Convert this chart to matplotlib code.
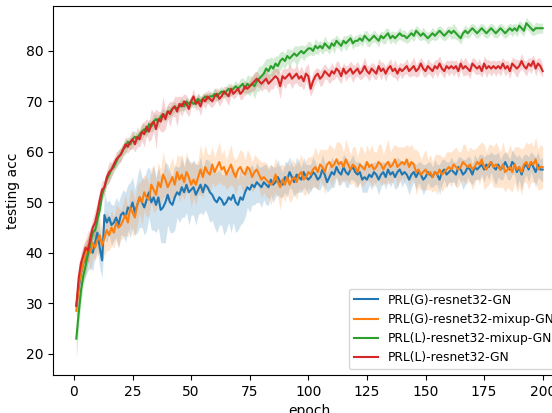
import numpy as np
import matplotlib
matplotlib.use("Agg")
import matplotlib.pyplot as plt

# testing accuracy per epoch (mean over runs) and half-width of the shaded band
epochs = list(range(1, 201))

labels = [
    "PRL(G)-resnet32-GN",
    "PRL(G)-resnet32-mixup-GN",
    "PRL(L)-resnet32-mixup-GN",
    "PRL(L)-resnet32-GN",
]

g_gn_mean = [
    29.5, 33, 36, 38, 38.5, 40, 41, 40, 42, 44, 41, 38.5, 47.5, 46, 47, 45.5, 46, 47, 45.5, 47.5,
    48, 47, 49, 48.5, 50, 48, 49.5, 51, 50, 49, 50.5, 52, 50, 51, 49.5, 51, 48.5, 49, 50, 51.5,
    50, 49.5, 51, 52, 51.5, 53, 52, 53.5, 52, 52.5, 53, 51.5, 52.5, 53.5, 52, 53.5, 53, 52, 51.5, 50.5,
    50, 51, 50.5, 49.5, 50, 51, 50.5, 51.5, 50, 49.5, 51, 50.5, 52, 53, 52.5, 53.5, 53, 54, 53.5, 53,
    54, 53.5, 53, 54.5, 53.5, 54, 55, 54, 53.5, 55, 54.5, 56, 55, 54, 55.5, 55, 54.5, 56, 55, 54.5,
    55, 56, 55.5, 54.5, 55, 56.5, 55.5, 54, 55, 56, 55.5, 57, 56, 55.5, 57, 56, 55.5, 56.5, 57, 56,
    55.5, 56, 54.5, 55, 54.5, 55.5, 55, 56, 55.5, 54.5, 55.5, 56, 55, 56.5, 55.5, 56, 55, 56, 56.5, 55.5,
    56, 55.5, 54.5, 55.5, 56, 55, 56, 55.5, 54.5, 55, 56, 55.5, 55, 56, 55.5, 54.5, 56, 56.5, 55.5, 56,
    56.5, 56, 55.5, 57, 56.5, 55.5, 56, 57, 56.5, 55.5, 57, 56.5, 57, 57.5, 56.5, 57.5, 57, 58, 57, 56.5,
    57.5, 56.5, 57, 58, 57, 56.5, 58, 57.5, 56, 57, 55.5, 57, 57.5, 56.5, 58, 57, 56, 57.5, 56.5, 56.5,
]
g_gn_band = [
    2.0, 3.0, 3.0, 3.5, 3.0, 3.5, 4.0, 3.5, 3.0, 3.5, 4.0, 3.5, 4.5, 4.0, 3.5, 4.0, 3.5, 4.0, 4.5, 4.0,
    4.5, 5.0, 4.5, 5.5, 5.0, 4.5, 5.5, 6.0, 5.0, 5.5, 6.0, 5.0, 5.5, 6.5, 5.5, 6.0, 6.5, 7.0, 8.0, 6.0,
    6.0, 5.5, 6.5, 5.0, 5.5, 6.0, 5.0, 5.5, 6.5, 5.0, 5.5, 6.0, 5.0, 5.5, 4.5, 5.0, 5.5, 6.0, 5.0, 5.5,
    6.0, 5.5, 5.0, 6.0, 5.5, 5.0, 6.5, 5.5, 6.0, 5.0, 5.5, 4.5, 5.0, 4.0, 4.5, 4.0, 3.5, 4.0, 3.5, 4.0,
    3.5, 4.0, 3.5, 3.0, 3.5, 3.0, 3.5, 3.0, 2.5, 3.0, 3.5, 3.0, 2.5, 3.0, 3.5, 3.0, 2.5, 3.0, 2.5, 3.0,
    2.5, 3.0, 2.5, 2.0, 2.5, 3.0, 2.5, 2.0, 2.5, 3.0, 2.5, 2.0, 2.5, 2.0, 2.5, 3.0, 2.5, 2.0, 2.5, 2.0,
    2.5, 2.0, 2.5, 3.0, 2.5, 2.0, 2.5, 2.0, 2.5, 3.0, 2.5, 2.0, 2.5, 2.0, 2.5, 2.0, 2.5, 3.0, 2.0, 2.5,
    2.0, 2.5, 3.0, 2.5, 2.0, 2.5, 2.0, 2.5, 3.0, 2.5, 2.0, 2.5, 2.0, 2.5, 2.0, 3.0, 2.5, 2.0, 2.5, 2.0,
    2.5, 2.0, 2.5, 2.0, 2.5, 3.0, 2.5, 2.0, 2.5, 2.0, 2.5, 2.0, 2.5, 2.0, 2.5, 2.0, 2.5, 2.0, 2.5, 3.0,
    2.5, 2.0, 2.5, 2.0, 2.5, 2.0, 2.5, 2.0, 3.0, 2.5, 3.0, 2.5, 2.0, 2.5, 2.0, 2.5, 3.0, 2.5, 2.0, 2.5,
]

g_mixup_mean = [
    28.5, 33.5, 36, 38, 39.5, 41.5, 40, 42, 41, 42.5, 43.5, 41.5, 43, 44.5, 43.5, 45, 44, 46, 45, 45.5,
    46.5, 47.5, 46, 49, 48, 47, 49.5, 51, 50, 52, 51, 50.5, 53.5, 52.5, 51.5, 54, 53, 55.5, 54.5, 53,
    54, 55, 53.5, 56, 54.5, 55.5, 54, 56, 55, 53.5, 54.5, 53.5, 55, 56.5, 55, 57, 56, 55.5, 57.5, 56,
    57, 58, 56.5, 57, 55.5, 56.5, 57.5, 56, 55, 56.5, 57, 56, 55.5, 57, 56.5, 55, 56, 56.5, 55.5, 54.5,
    55, 54.5, 54, 53.5, 54, 55.5, 54, 53, 54.5, 53.5, 55, 53.5, 54.5, 55, 54, 55.5, 56, 54.5, 55, 56,
    55.5, 56.5, 57, 56, 57.5, 57, 56, 57.5, 58, 57, 57.5, 58.5, 57.5, 58, 57, 58.5, 57.5, 56.5, 57.5, 57,
    56, 57.5, 57, 56.5, 58, 57, 57.5, 56.5, 57, 58, 57.5, 56.5, 57.5, 58, 57, 57.5, 58.5, 57, 57.5, 58,
    57.5, 58.5, 57, 58, 57.5, 56, 56.5, 55.5, 56, 56.5, 55.5, 56, 55, 56, 55.5, 56.5, 55.5, 56, 56.5, 57,
    56.5, 57.5, 57, 56.5, 57, 58, 57.5, 57, 57.5, 56.5, 57, 58, 57.5, 58.5, 57, 56.5, 57.5, 58, 57, 57.5,
    57, 56.5, 57.5, 56, 56.5, 57, 56, 57.5, 56.5, 57, 56, 57.5, 58, 57, 58, 57.5, 58.5, 56.5, 57, 57,
]
g_mixup_band = [
    1.5, 2.5, 3.0, 3.0, 3.5, 3.0, 3.5, 3.0, 2.5, 3.0, 3.5, 3.0, 3.5, 4.0, 3.0, 3.5, 3.0, 3.5, 4.0, 3.0,
    3.5, 4.0, 3.0, 3.5, 4.5, 3.5, 4.0, 3.0, 4.5, 3.5, 4.0, 3.0, 3.5, 4.5, 3.0, 4.0, 3.5, 4.5, 3.5, 3.0,
    3.5, 4.0, 3.0, 3.5, 4.5, 4.0, 3.5, 4.0, 3.0, 4.5, 3.5, 4.0, 3.5, 5.0, 4.0, 4.5, 3.5, 4.0, 3.5, 3.0,
    3.5, 4.0, 3.0, 3.5, 3.0, 3.5, 4.0, 3.0, 3.5, 3.0, 3.5, 4.0, 3.0, 3.5, 3.0, 3.0, 3.5, 2.5, 3.0, 3.5,
    3.0, 3.5, 3.0, 4.0, 3.0, 3.5, 3.0, 4.5, 3.0, 3.5, 3.0, 3.5, 4.0, 3.0, 3.5, 3.0, 3.5, 3.0, 3.5, 3.0,
    3.5, 3.0, 4.0, 3.5, 3.0, 3.5, 4.5, 3.0, 3.5, 4.0, 3.0, 3.5, 4.5, 3.5, 3.0, 4.0, 3.5, 3.0, 3.5, 4.0,
    3.0, 3.5, 4.0, 3.0, 3.5, 3.0, 4.0, 3.5, 3.0, 3.5, 4.0, 3.0, 3.5, 4.5, 3.0, 3.5, 3.0, 4.0, 3.5, 3.0,
    3.5, 3.0, 4.0, 3.5, 3.0, 4.5, 3.5, 3.0, 3.5, 4.0, 3.0, 3.5, 3.0, 3.5, 4.0, 3.0, 3.5, 3.0, 3.5, 3.0,
    3.5, 3.0, 4.0, 3.5, 3.0, 3.5, 4.0, 3.0, 3.5, 4.0, 3.5, 3.0, 4.0, 3.5, 4.5, 3.5, 4.0, 3.5, 4.0, 4.5,
    4.0, 3.5, 4.5, 4.0, 3.5, 4.5, 4.0, 3.5, 4.5, 4.0, 4.5, 3.5, 4.0, 4.5, 4.0, 3.5, 4.5, 4.0, 4.5, 4.0,
]

l_mixup_mean = [
    23.0, 28, 32.5, 35.5, 37.5, 40, 42, 44, 44.5, 46.5, 48.5, 51.5, 53, 54.5, 55.5, 56.5, 57, 58, 59, 59.5,
    60.5, 61, 62, 61.5, 62.5, 63, 62.5, 63.5, 64, 64.5, 64, 65.5, 65, 66, 66.5, 66, 67, 67.5, 67, 68,
    68, 68.5, 69, 68.5, 69, 69.5, 69, 70, 69.5, 70, 69.5, 70, 70.5, 70, 70.5, 71, 70.5, 71, 71, 71.5,
    71, 71.5, 72, 71.5, 72, 72.5, 72, 72.5, 73, 72.5, 73, 73.5, 72.5, 73.5, 73, 73.5, 73, 74, 74.5, 75,
    75.5, 76.5, 76, 77, 76.5, 77.5, 77, 78, 78.5, 78, 79, 78.5, 79, 79.5, 79, 79.5, 80, 79.5, 80, 80.5,
    80.5, 80, 81, 80.5, 81, 80.5, 81.5, 81, 80.5, 81.5, 81, 82, 81.5, 81, 82, 81.5, 82, 82.5, 81.5, 82,
    82, 82.5, 82, 83, 82.5, 82, 82.5, 83, 82.5, 82, 83, 82.5, 83, 83.5, 82.5, 83, 82.5, 83, 83.5, 83,
    83, 82.5, 83, 83.5, 83, 84, 83.5, 83, 83.5, 83, 82.5, 83, 83.5, 83, 83.5, 84, 83.5, 83, 83.5, 84,
    83.5, 84, 83.5, 83, 82.5, 83.5, 84, 83.5, 84, 84.5, 84, 83.5, 84, 84.5, 84, 83.5, 84, 84.5, 84, 83.5,
    84, 84.5, 84, 83.5, 84, 84.5, 84, 84.5, 84, 85, 84.5, 84, 85.5, 85, 84.5, 84, 84.5, 84.5, 84.5, 84.5,
]
l_mixup_band = [
    4.0, 3.0, 2.5, 2.0, 2.0, 1.8, 1.5, 1.5, 1.5, 1.5, 1.5, 1.2, 1.2, 1.2, 1.5, 1.2, 1.0, 1.2, 1.5, 1.2,
    1.2, 1.5, 1.0, 1.2, 1.5, 1.2, 1.0, 1.2, 1.5, 1.0, 1.2, 1.0, 1.2, 1.5, 1.0, 1.2, 1.0, 1.2, 1.0, 1.2,
    1.0, 1.2, 1.0, 0.8, 1.0, 1.2, 1.0, 0.8, 1.0, 1.0, 0.8, 1.0, 1.2, 1.0, 0.8, 1.0, 1.0, 0.8, 1.0, 1.2,
    1.0, 1.2, 1.0, 0.8, 1.0, 1.2, 1.0, 1.0, 1.2, 1.0, 1.5, 1.2, 1.5, 1.8, 2.0, 1.5, 2.5, 2.0, 2.5, 2.0,
    2.2, 2.0, 2.5, 1.8, 2.0, 1.5, 2.0, 1.8, 1.5, 1.5, 1.5, 1.8, 1.2, 1.5, 2.0, 1.5, 1.2, 1.5, 1.2, 1.5,
    1.2, 1.0, 1.5, 1.2, 1.0, 1.2, 1.5, 1.0, 1.2, 1.0, 1.5, 1.2, 1.0, 1.2, 1.0, 1.5, 1.2, 1.0, 1.2, 1.0,
    1.2, 1.0, 1.2, 1.0, 1.5, 1.2, 1.0, 1.2, 1.0, 1.2, 1.0, 1.2, 1.5, 1.0, 1.2, 1.0, 1.2, 1.0, 1.2, 1.0,
    1.2, 1.0, 1.2, 1.0, 1.2, 1.0, 1.2, 1.0, 1.2, 1.0, 1.2, 1.0, 1.2, 1.0, 1.2, 1.0, 1.2, 1.0, 1.2, 1.0,
    1.2, 1.5, 1.2, 1.0, 1.2, 1.0, 1.2, 1.0, 1.2, 1.0, 1.2, 1.0, 1.2, 1.0, 1.2, 1.0, 1.2, 1.0, 1.2, 1.0,
    1.2, 1.0, 1.2, 1.0, 1.2, 1.0, 1.2, 1.0, 1.2, 1.0, 1.2, 1.0, 1.2, 1.0, 1.2, 1.0, 1.2, 1.0, 1.0, 1.0,
]

l_gn_mean = [
    29.5, 35, 38, 39.5, 41, 40.5, 43, 45, 46, 48, 50.5, 52.5, 53, 55, 56, 56.5, 57.5, 58.5, 59, 59.5,
    60.5, 61.5, 61, 62, 62.5, 61.5, 63, 62.5, 64, 63.5, 65, 64, 65.5, 66, 64.5, 66.5, 66, 67.5, 66.5, 68,
    67.5, 68.5, 69, 68, 69.5, 69, 70, 69.5, 68.5, 70, 71, 69.5, 70, 69, 70.5, 70, 71, 70.5, 70, 71,
    71.5, 70.5, 71, 72, 71.5, 71, 72.5, 71.5, 72, 72.5, 71.5, 72, 73, 72.5, 73, 73.5, 74, 74.5, 74, 73.5,
    74, 74.5, 73.5, 74, 74.5, 75, 74.5, 73, 75, 74.5, 75, 75.5, 74.5, 75, 75.5, 74.5, 75, 74, 75.5, 75,
    72.5, 74, 75, 75.5, 74.5, 75, 76, 75.5, 75, 76, 75.5, 76.5, 76, 75, 76.5, 75.5, 76, 76.5, 75.5, 76,
    76.5, 75.5, 76, 77, 76, 75.5, 76.5, 76, 75.5, 77, 76, 76.5, 75.5, 76.5, 77, 76, 76.5, 75.5, 76.5, 76,
    76.5, 77, 76, 76.5, 77, 76, 76.5, 77.5, 76.5, 76, 77, 76.5, 76, 77, 76.5, 77.5, 76.5, 76, 77, 76.5,
    77, 76.5, 77, 76, 77.5, 76.5, 77, 76.5, 76, 77.5, 77, 76.5, 77, 76, 77.5, 76.5, 77, 76.5, 77, 76.5,
    77, 76.5, 77.5, 76.5, 77, 76, 77.5, 77, 76.5, 77, 78, 77, 76.5, 77.5, 77, 78, 76.5, 77.5, 77, 76,
]
l_gn_band = [
    2.0, 2.5, 2.0, 2.0, 1.5, 2.5, 2.0, 1.8, 2.5, 2.0, 2.0, 1.8, 1.5, 1.5, 2.0, 1.5, 1.2, 1.5, 1.2, 1.5,
    1.2, 1.5, 1.2, 1.5, 1.8, 1.5, 2.0, 1.5, 1.8, 2.5, 1.5, 2.0, 3.0, 1.8, 4.0, 1.5, 2.0, 3.5, 2.0, 1.5,
    2.5, 1.5, 2.0, 3.0, 1.5, 2.0, 1.5, 1.8, 1.5, 1.2, 1.5, 1.2, 1.5, 1.8, 1.2, 1.5, 1.2, 1.5, 1.2, 1.5,
    1.2, 1.5, 1.2, 1.0, 1.5, 1.8, 1.2, 1.0, 1.2, 1.0, 1.2, 1.5, 1.2, 1.0, 1.2, 1.5, 1.8, 1.5, 1.2, 1.5,
    1.5, 2.0, 1.8, 1.5, 2.0, 1.5, 2.0, 2.5, 1.5, 2.0, 1.5, 1.8, 2.0, 1.5, 1.8, 1.5, 2.0, 1.8, 1.5, 2.5,
    1.5, 1.8, 1.5, 1.2, 1.5, 1.8, 1.5, 1.2, 1.5, 1.8, 1.2, 1.5, 1.8, 1.5, 1.2, 1.5, 1.2, 1.5, 1.8, 1.2,
    1.5, 1.2, 1.5, 1.8, 1.2, 1.5, 1.2, 1.5, 1.2, 1.5, 1.8, 1.2, 1.5, 1.2, 1.5, 1.2, 1.8, 1.5, 1.2, 1.5,
    1.2, 1.5, 1.2, 1.5, 1.8, 1.2, 1.5, 1.2, 1.5, 1.2, 1.5, 1.2, 1.5, 1.2, 1.8, 1.5, 1.2, 1.5, 1.2, 1.5,
    1.2, 1.5, 1.2, 1.5, 1.2, 1.5, 1.8, 1.2, 1.5, 1.2, 1.5, 1.2, 1.5, 1.2, 1.5, 1.8, 1.2, 1.5, 1.2, 1.5,
    1.2, 1.5, 1.2, 1.5, 1.2, 1.5, 1.2, 1.5, 1.8, 1.2, 1.5, 1.2, 1.5, 1.2, 1.5, 1.2, 1.5, 1.2, 1.5, 1.2,
]

colors = ["tab:blue", "tab:orange", "tab:green", "tab:red"]
series = [
    (g_gn_mean, g_gn_band),
    (g_mixup_mean, g_mixup_band),
    (l_mixup_mean, l_mixup_band),
    (l_gn_mean, l_gn_band),
]

figure = plt.figure(figsize=(5.52, 4.13), dpi=100)
# the original image was cropped on the right, so the axes run past the figure edge
axis = figure.add_axes([53 / 552, 38 / 413, 513 / 552, 369 / 413])

x = np.array(epochs)
for (mean, band), color, label in zip(series, colors, labels):
    mean = np.array(mean)
    band = np.array(band)
    axis.fill_between(x, mean - band, mean + band, color=color, alpha=0.2, linewidth=0)
    axis.plot(x, mean, color=color, linewidth=1.5, label=label)

axis.set_ylim(15.8, 88.9)
axis.set_xticks([0, 25, 50, 75, 100, 125, 150, 175, 200])
axis.set_yticks([20, 30, 40, 50, 60, 70, 80])
axis.set_xlabel("epoch")
axis.set_ylabel("testing acc")
axis.legend(loc="lower right", fontsize=8.8)

figure.savefig("out.png", dpi=100)
